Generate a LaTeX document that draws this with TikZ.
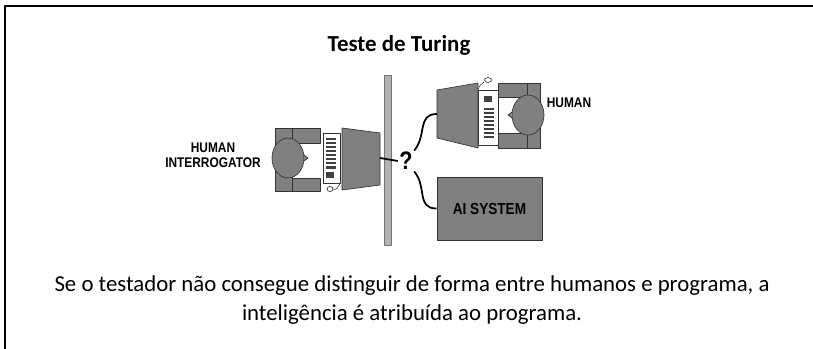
\documentclass[tikz,border=0pt]{standalone}
\usepackage{fontspec}
\setmainfont{Carlito}
\newfontfamily\labelfont[FakeStretch=0.85]{Liberation Sans}
\usetikzlibrary{positioning}

\definecolor{figgray}{RGB}{128,128,128}
\definecolor{wallgray}{RGB}{178,178,178}

\begin{document}
\begin{tikzpicture}[x=0.75pt,y=-0.75pt,line join=round]
    \tikzstyle{part}=[fill=figgray,draw=black!80,line width=0.5pt]
    \tikzstyle{keys}=[fill=white,draw=black!80,line width=0.5pt]
    \tikzstyle{label}=[font=\labelfont\bfseries\fontsize{10.5}{11.5}\selectfont,align=center,inner sep=0pt]
    \tikzstyle{wire}=[draw=black,line width=1.3pt]
    \tikzstyle{aibox}=[part,minimum width=79pt,minimum height=47pt,
        font=\labelfont\bfseries\fontsize{12}{13}\selectfont]

    \useasboundingbox (0,0) rectangle (813,349);

    % frame
    \draw[line width=1.5pt] (5,349) -- (5,6) -- (813,6);

    % title and caption
    \node[font=\bfseries\fontsize{17.2}{19}\selectfont] (title) at (399,45) {Teste de Turing};
    \node[align=center,font=\fontsize{17.1}{21.5}\selectfont] (caption) at (412,300)
        {Se o testador não consegue distinguir de forma entre humanos e programa, a\\
         inteligência é atribuída ao programa.};

    % the wall
    \draw[fill=wallgray,draw=black!55,line width=0.6pt] (384,75) rectangle (391,245);

    % Draw the interrogator: chair, head, keyboard, mouse, monitor
    \draw[part] (275,128) rectangle (292,191);
    \draw[part] (292,128) rectangle (320,143);
    \draw[part] (292,178) rectangle (320,191);
    \draw[part] (288,158) ellipse (16 and 20);
    \draw[part] (304,155) -- (308,158) -- (304,161);
    \draw[keys] (323,133) rectangle (340,183);
    \foreach \y in {138,142,...,166}
        \fill[black!75] (326,\y) rectangle (336,\y+2.5);
    \fill[black!75] (326,172) rectangle (334,178);
    \draw[keys] (330,189) ellipse (3 and 2.5);
    \draw[black!80] (333,189) .. controls (337,191) and (338,186) .. (340,184);
    \draw[part] (342,128) -- (380,133) -- (380,185) -- (342,190) -- cycle;
    \coordinate (imon) at (380,158);
    \node[label] (interrogator) at (213,155) {HUMAN\\INTERROGATOR};

    % Draw the human on the other side
    \draw[part] (527,83) rectangle (540,148);
    \draw[part] (498,83) rectangle (527,97);
    \draw[part] (498,133) rectangle (527,148);
    \draw[part] (528,115) ellipse (16 and 20);
    \draw[part] (512,112) -- (508,115) -- (512,118);
    \draw[keys] (478,90) rectangle (498,145);
    \fill[black!75] (484,96) rectangle (492,102);
    \foreach \y in {108,112,...,136}
        \fill[black!75] (484,\y) rectangle (494,\y+2.5);
    \draw[keys] (488,80) ellipse (3.5 and 2.5);
    \draw[black!80] (484,82) .. controls (481,84) and (479,86) .. (478,90);
    \draw[part] (437,90) -- (478,83) -- (478,148) -- (437,138) -- cycle;
    \coordinate (hmon) at (437,114);
    \node[label] (human) at (569,103) {HUMAN};

    % the machine
    \node[aibox] (ai) at (489.5,208.5) {AI SYSTEM};

    % Connect the interrogator with both sides
    \node[font=\labelfont\bfseries\fontsize{19}{20}\selectfont,inner sep=1pt] (q) at (406,161) {?};
    \draw[wire] (imon) -- (q.west);
    \draw[wire] (q.north east) to[out=50,in=180,looseness=1.2] (hmon);
    \draw[wire] (q.south east) to[out=-50,in=180,looseness=1.2] (ai.west);
\end{tikzpicture}
\end{document}
